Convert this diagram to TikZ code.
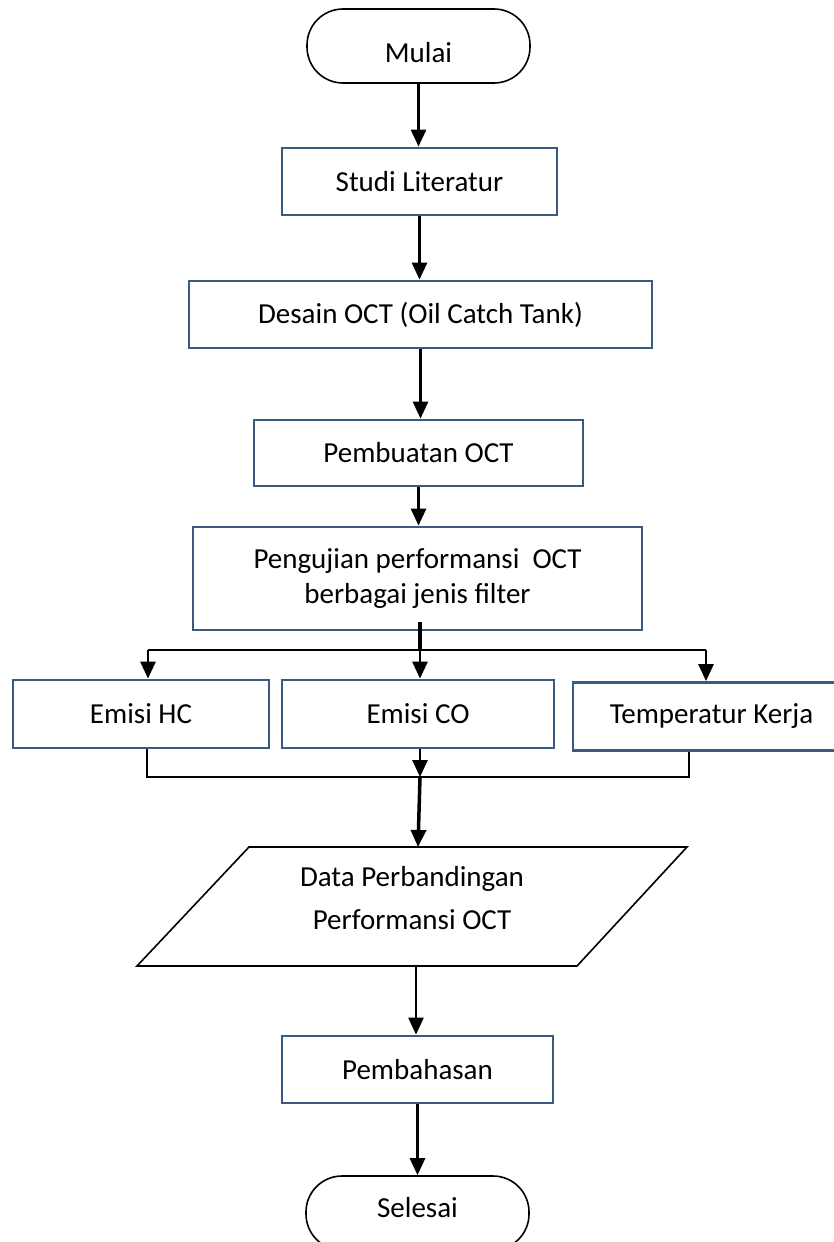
\documentclass[tikz,border=0pt]{standalone}
\usepackage{fontspec}
\setmainfont{Carlito}
\usetikzlibrary{arrows.meta}
\definecolor{boxblue}{RGB}{58,90,130}
\begin{document}
\begin{tikzpicture}[x=1pt,y=-1pt,
  every node/.style={font=\fontsize{29}{35}\selectfont, inner sep=0pt, align=center},
  proc/.style={draw=boxblue, line width=2.8pt, fill=white, minimum width=#1, minimum height=67pt},
  term/.style={draw=black, line width=1.6pt, rounded corners=36pt, minimum width=223pt, minimum height=74pt},
  para/.style={draw=black, line width=1.6pt},
  conn/.style={line width=2.8pt, -{Triangle[length=17pt,width=15pt]}},
  link/.style={line width=2.6pt}
]
\useasboundingbox (0,0) rectangle (834,1242);
\node[term, text height=32pt, text depth=0pt] (mulai) at (418.5,46) {Mulai};
\node[proc=275pt] (studi) at (419.5,181.5) {Studi Literatur};
\node[proc=463pt] (desain) at (420.5,314.5) {Desain OCT (Oil Catch Tank)};
\node[proc=329pt, minimum height=66pt] (buat) at (418.5,453) {Pembuatan OCT};
\node[proc=449pt, minimum height=103pt] (uji) at (417.5,578.5) {Pengujian performansi\ \ OCT\\berbagai jenis filter};
\node[proc=256pt, minimum height=68pt] (hc) at (141,714) {Emisi HC};
\node[proc=272pt, minimum height=68pt] (co) at (418,714) {Emisi CO};
\node[proc=277pt, minimum height=68pt] (temp) at (711.5,716.5) {Temperatur Kerja};
\draw[para] (249,847) -- (687,847) -- (577,966) -- (137,966) -- cycle;
\node (data) at (412,898.5) {Data Perbandingan\\[8pt]Performansi OCT};
\node[proc=271pt] (bahas) at (417.5,1069.5) {Pembahasan};
\node[term, text height=20pt, text depth=12pt] (selesai) at (417.5,1213) {Selesai};
\coordinate (trunk) at (420,622);
\coordinate (bC) at (420,650);
\coordinate (bL) at (148,650);
\coordinate (bR) at (706,650);
\coordinate (mL) at (147,777);
\coordinate (mC) at (420,777);
\coordinate (mR) at (689,777);
\coordinate (dataTop) at (418,847);
\coordinate (dataBot) at (416,966);
\draw[conn] (mulai.south) -- (mulai.south |- studi.north);
\draw[conn] (studi.south) -- (studi.south |- desain.north);
\draw[conn] (desain.south) -- (desain.south |- buat.north);
\draw[conn] (buat.south) -- (buat.south |- uji.north);
\draw[link, line width=4.5pt] (trunk) -- (bC);
\draw[link] (bL) -- (bR);
\draw[conn] (bL) -- (bL |- hc.north);
\draw[conn] (bC) -- (bC |- co.north);
\draw[conn] (bR) -- (bR |- temp.north);
\draw[link] (mL |- hc.south) -- (mL) -- (mR) -- (mR |- temp.south);
\draw[conn] (mC |- co.south) -- (mC);
\draw[conn, line width=3.5pt] (mC) -- (dataTop);
\draw[conn] (dataBot) -- (dataBot |- bahas.north);
\draw[conn] (bahas.south) -- (bahas.south |- selesai.north);
\end{tikzpicture}
\end{document}
